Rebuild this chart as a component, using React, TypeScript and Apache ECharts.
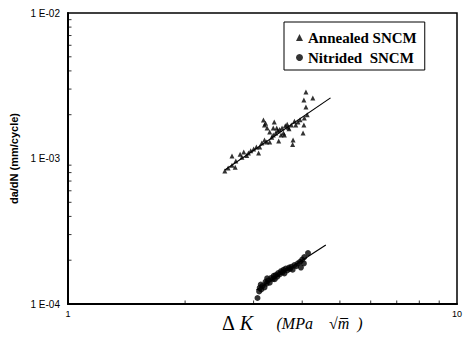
import React, { useEffect, useRef } from "react";
import * as echarts from "echarts";

const seriesNames = ["Annealed SNCM", "Nitrided  SNCM"];

const annealed: [number, number][] = [
  [2.53, 8.2e-4], [2.58, 8.6e-4], [2.64, 9.0e-4], [2.69, 8.7e-4], [2.64, 1.04e-3],
  [2.70, 9.6e-4], [2.77, 1.07e-3], [2.80, 1.02e-3], [2.83, 1.11e-3], [2.88, 1.05e-3],
  [2.91, 1.09e-3], [2.95, 1.13e-3], [3.00, 1.16e-3], [3.05, 1.20e-3], [3.09, 1.09e-3],
  [3.11, 1.20e-3], [3.15, 1.28e-3], [3.20, 1.34e-3], [3.24, 1.30e-3], [3.18, 1.84e-3],
  [3.22, 1.75e-3], [3.25, 1.62e-3], [3.30, 1.30e-3], [3.30, 1.52e-3], [3.34, 1.40e-3],
  [3.37, 1.45e-3], [3.39, 1.78e-3], [3.37, 1.62e-3], [3.42, 1.50e-3], [3.46, 1.55e-3],
  [3.50, 1.58e-3], [3.53, 1.45e-3], [3.55, 1.62e-3], [3.60, 1.45e-3], [3.62, 1.68e-3],
  [3.66, 1.72e-3], [3.70, 1.60e-3], [3.75, 1.70e-3], [3.79, 1.34e-3], [3.78, 1.25e-3],
  [3.82, 1.80e-3], [3.90, 1.78e-3], [3.95, 1.85e-3], [4.02, 1.50e-3], [4.04, 1.70e-3],
  [4.05, 1.90e-3], [4.09, 2.26e-3], [4.04, 2.52e-3], [4.09, 2.86e-3], [4.26, 2.60e-3],
  [4.12, 2.00e-3], [3.48, 1.32e-3], [3.58, 1.50e-3], [3.20, 1.70e-3], [3.44, 1.62e-3],
  [3.68, 1.64e-3], [3.85, 1.70e-3],
];

const nitrided: [number, number][] = [
  [3.07, 1.10e-4], [3.10, 1.22e-4], [3.11, 1.29e-4], [3.14, 1.26e-4], [3.16, 1.33e-4],
  [3.13, 1.36e-4], [3.20, 1.30e-4], [3.22, 1.42e-4], [3.24, 1.38e-4], [3.27, 1.45e-4],
  [3.30, 1.40e-4], [3.33, 1.51e-4], [3.36, 1.48e-4], [3.38, 1.56e-4], [3.42, 1.58e-4],
  [3.45, 1.54e-4], [3.47, 1.63e-4], [3.50, 1.60e-4], [3.53, 1.68e-4], [3.56, 1.65e-4],
  [3.58, 1.72e-4], [3.60, 1.62e-4], [3.63, 1.75e-4], [3.66, 1.70e-4], [3.70, 1.78e-4],
  [3.72, 1.74e-4], [3.75, 1.80e-4], [3.78, 1.72e-4], [3.82, 1.85e-4], [3.86, 1.82e-4],
  [3.90, 1.90e-4], [3.95, 1.95e-4], [3.97, 1.78e-4], [4.00, 2.02e-4], [4.04, 1.90e-4],
  [4.05, 2.10e-4], [4.14, 2.24e-4], [3.25, 1.50e-4], [3.40, 1.48e-4],
];

const annealedFit: [number, number][] = [[2.53, 8.34e-4], [4.73, 2.61e-3]];
const nitridedFit: [number, number][] = [[3.05, 1.247e-4], [4.60, 2.543e-4]];

const xTickLabels = ["1", "10"];
const yTickLabels = ["1 E-04", "1 E-03", "1 E-02"];

const yMinorTicks = [2e-4, 3e-4, 4e-4, 5e-4, 6e-4, 7e-4, 8e-4, 9e-4, 2e-3, 3e-3, 4e-3, 5e-3, 6e-3, 7e-3, 8e-3, 9e-3];
const xMinorTicks = [2, 3, 4, 5, 6, 7, 8, 9];

export default function App() {
  const ref = useRef<HTMLDivElement>(null);
  useEffect(() => {
    document.body.style.margin = "0";
    if (!ref.current) return;
    const chart = echarts.init(ref.current, null, { renderer: "svg" });
    chart.setOption({
      animation: false,
      backgroundColor: "#ffffff",
      grid: { left: 64, right: 9, top: 13, bottom: 33, show: true, borderColor: "#000", borderWidth: 1.5 },
      legend: {
        orient: "vertical",
        left: 284,
        top: 22,
        data: [
          { name: seriesNames[0], icon: "triangle" },
          { name: seriesNames[1], icon: "circle" },
        ],
        itemWidth: 7,
        itemHeight: 7,
        itemGap: 5,
        padding: [8, 8, 5, 12],
        borderColor: "#000",
        borderWidth: 1,
        backgroundColor: "#fff",
        textStyle: { fontFamily: "Liberation Serif", fontWeight: "bold", fontSize: 15, color: "#000" },
      },
      xAxis: {
        type: "log",
        logBase: 10,
        min: 1,
        max: 10,
        axisLine: { lineStyle: { color: "#000", width: 2 } },
        axisTick: { show: false },
        splitLine: { show: false },
        axisLabel: {
          color: "#000",
          fontSize: 9,
          fontFamily: "Liberation Sans",
          margin: 5,
          formatter: (_v: number, i: number) => xTickLabels[i] ?? "",
        },
      },
      yAxis: {
        type: "log",
        logBase: 10,
        min: 1e-4,
        max: 1e-2,
        name: "da/dN (mm/cycle)",
        nameLocation: "middle",
        nameRotate: 90,
        nameGap: 49,
        nameTextStyle: { fontFamily: "Liberation Sans", fontWeight: "bold", fontSize: 11, color: "#000" },
        axisLine: { lineStyle: { color: "#000", width: 2 } },
        axisTick: { show: false },
        splitLine: { show: false },
        axisLabel: {
          color: "#000",
          fontSize: 10,
          fontFamily: "Liberation Sans",
          margin: 8,
          formatter: (_v: number, i: number) => yTickLabels[i] ?? "",
        },
      },
      graphic: [
        {
          type: "text",
          left: 222,
          top: 313,
          style: {
            text: "{a|Δ}{k| K}       {b|(MPa    √m\u0305  )}",
            rich: {
              a: { fontFamily: "Liberation Serif", fontSize: 20, fill: "#000" },
              k: { fontFamily: "Liberation Serif", fontStyle: "italic", fontSize: 20, fill: "#000" },
              b: { fontFamily: "Liberation Serif", fontStyle: "italic", fontSize: 16, fill: "#000" },
            },
          },
        },
      ],
      series: [
        {
          name: seriesNames[0],
          type: "scatter",
          symbol: "triangle",
          symbolSize: 5,
          itemStyle: { color: "#000" },
          data: annealed,
          z: 3,
        },
        {
          name: seriesNames[1],
          type: "scatter",
          symbol: "circle",
          symbolSize: 6,
          itemStyle: { color: "#000" },
          data: nitrided,
          z: 3,
        },
        {
          type: "line",
          data: annealedFit,
          symbol: "none",
          lineStyle: { color: "#000", width: 1.2 },
          silent: true,
          z: 2,
        },
        {
          type: "line",
          data: nitridedFit,
          symbol: "none",
          lineStyle: { color: "#000", width: 1.2 },
          silent: true,
          z: 2,
        },
        {
          type: "scatter",
          symbol: "rect",
          symbolSize: [3, 1],
          symbolOffset: [2, 0],
          itemStyle: { color: "#000" },
          data: yMinorTicks.map((v) => [1, v]),
          silent: true,
          clip: false,
        },
        {
          type: "scatter",
          symbol: "rect",
          symbolSize: [1, 3],
          symbolOffset: [0, -2],
          itemStyle: { color: "#000" },
          data: xMinorTicks.map((v) => [v, 1e-4]),
          silent: true,
          clip: false,
        },
      ],
    });
    return () => chart.dispose();
  }, []);
  return <div ref={ref} style={{ width: 466, height: 337 }} />;
}
